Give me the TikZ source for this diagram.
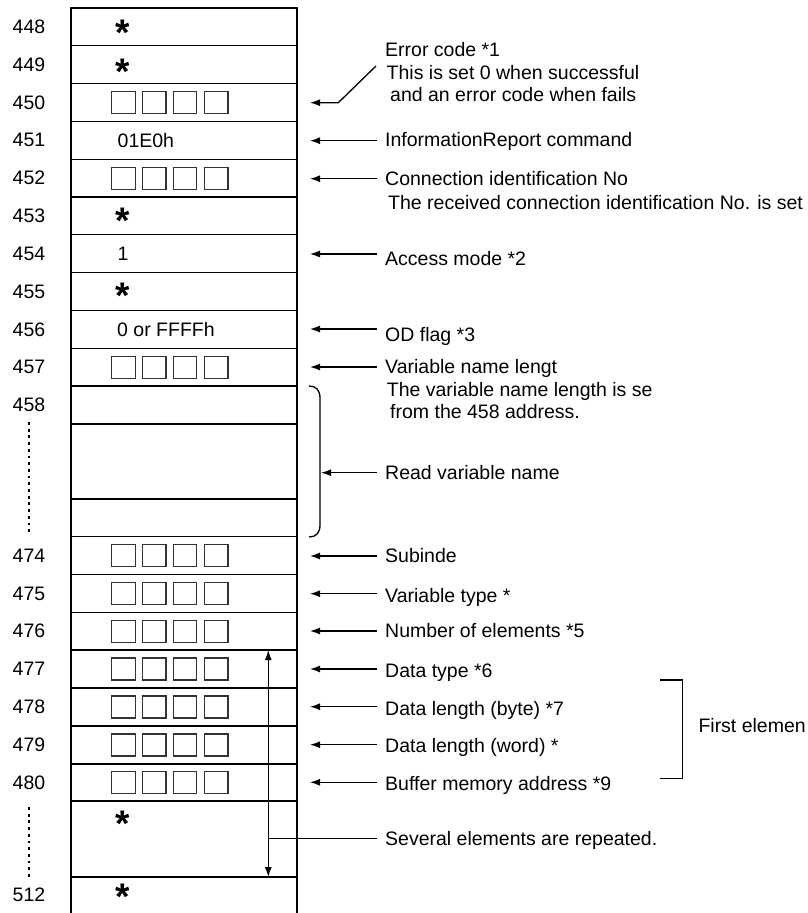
\documentclass[tikz,border=0pt]{standalone}
\usepackage{fontspec}
\setmainfont{Liberation Sans}
\usetikzlibrary{arrows.meta}
\begin{document}
\begin{tikzpicture}[x=1pt,y=-1pt,
  tline/.style={line width=1.3pt},
  arr/.style={line width=1.3pt,-{Latex[length=10pt,width=7pt]}},
  darr/.style={line width=1.3pt,{Latex[length=10pt,width=7pt]}-{Latex[length=10pt,width=7pt]}},
  lbl/.style={anchor=base west, inner sep=0pt, font=\fontsize{19.5}{23}\selectfont},
  addr/.style={inner sep=0pt, font=\fontsize{19.5}{23}\selectfont},
  star/.style={anchor=base, inner sep=0pt, font=\fontsize{37}{37}\selectfont\bfseries},
  sq/.style={draw=black!80, line width=1.2pt, minimum width=23.5pt, minimum height=22pt, inner sep=0pt},
  dots/.style={line width=2.8pt, dash pattern=on 2.8pt off 3.9pt}]
\useasboundingbox (0,0) rectangle (807,913);

% table frame
\coordinate (tblTL) at (71,8);
\coordinate (tblTR) at (297,8);
\coordinate (tblBL) at (71,913);
\coordinate (tblBR) at (297,913);
\draw[tline] (tblBL) -- (tblTL) -- (tblTR) -- (tblBR);
\foreach \y in {45.8,83.6,121.4,159.2,197,234.8,272.6,310.4,348.2,386,424,499,536.7,574.5,612.3,650,688,726,764,801,877}
  \draw[tline] (71,\y) -- (297,\y);

% address labels
\foreach \t/\y in {448/26.9,449/64.7,450/102.5,451/140.3,452/178.1,453/215.9,454/253.7,455/291.5,456/329.3,457/367.1,458/405,474/555.6,475/593.4,476/631.2,477/669,478/707,479/745,480/782.5,512/895}
  \node[addr] (ad\t) at (29,\y) {\t};
\coordinate (dA1) at (29,422);
\coordinate (dA2) at (29,533);
\coordinate (dB1) at (29,807);
\coordinate (dB2) at (29,877);
\draw[dots] (dA1) -- (dA2);
\draw[dots] (dB1) -- (dB2);

% four-square cells
\foreach \r/\y in {450/102.5,452/178.1,457/367.1,474/555.6,475/593.4,476/631.2,477/669,478/707,479/745,480/782.5}{
  \node[sq] (sq\r a) at (123.4,\y) {};
  \node[sq] (sq\r b) at (154.2,\y) {};
  \node[sq] (sq\r c) at (185,\y) {};
  \node[sq] (sq\r d) at (216.3,\y) {};
}

% asterisks
\foreach \n/\y in {448/29,449/68,453/216.7,455/292.5,481/820,512/893}
  \node[star] (st\n) at (122.5,\y+16.4) {*};

% cell texts
\node[lbl] (v451) at (117.5,147.3) {01E0h};
\node[lbl] (v454) at (117.5,260) {1};
\node[lbl] (v456) at (117,336) {0 or FFFFh};

% labels
\node[lbl] (err1) at (385,56) {Error code *1};
\node[lbl] (err2) at (386.5,79.3) {This is set 0 when successful};
\node[lbl] (err3) at (390,101.7) {and an error code when fails};
\node[lbl] (l451) at (385,146.7) {InformationReport command};
\node[lbl] (l452) at (385,185) {Connection identification No};
\node[lbl] (l452b) at (388,209) {The received connection identification No. is set};
\node[lbl] (l454) at (385,265) {Access mode *2};
\node[lbl] (l456) at (385,341) {OD flag *3};
\node[lbl] (l457) at (385,373.3) {Variable name lengt};
\node[lbl] (l457b) at (386.7,396) {The variable name length is se};
\node[lbl] (l457c) at (390,418.7) {from the 458 address.};
\node[lbl] (lread) at (385,479.3) {Read variable name};
\node[lbl] (l474) at (385,562.7) {Subinde};
\node[lbl] (l475) at (385,602.7) {Variable type *};
\node[lbl] (l476) at (385,637.3) {Number of elements *5};
\node[lbl] (l477) at (385,677.3) {Data type *6};
\node[lbl] (l478) at (385,715) {Data length (byte) *7};
\node[lbl] (l479) at (385,752.7) {Data length (word) *};
\node[lbl] (l480) at (385,790) {Buffer memory address *9};
\node[lbl] (lsev) at (385,845.3) {Several elements are repeated.};
\node[lbl] (lfirst) at (698.3,732.7) {First elemen};

% error code elbow arrow
\coordinate (e1) at (376,66);
\coordinate (e2) at (338.3,102.7);
\coordinate (e3) at (310,102.7);
\draw[arr] (e1) -- (e2) -- (e3);

% horizontal arrows
\foreach \n/\y in {451/140.7,452/178.7,454/254,456/329,457/367,474/556,475/593.7,476/631,477/669,478/706.7,479/744.7,480/782.3}{
  \coordinate (as\n) at (376.7,\y);
  \coordinate (ae\n) at (310,\y);
  \draw[arr] (as\n) -- (ae\n);
}

% read variable name bracket
\coordinate (brT) at (309,386);
\coordinate (brB) at (309,537);
\draw[tline] (brT) .. controls (316,386) and (320,390) .. (320,398) -- (320,525) .. controls (320,533) and (316,537) .. (brB);
\coordinate (rs) at (376.7,472.7);
\coordinate (re) at (321,472.7);
\draw[arr] (rs) -- (re);

% repeat double arrow
\coordinate (rpT) at (268.3,650);
\coordinate (rpB) at (268.3,877);
\coordinate (rpM) at (268.3,838.7);
\coordinate (rpE) at (376.7,838.7);
\draw[darr] (rpT) -- (rpB);
\draw[tline] (rpM) -- (rpE);

% first element bracket
\coordinate (fb1) at (660,680);
\coordinate (fb2) at (682.7,680);
\coordinate (fb3) at (682.7,778.3);
\coordinate (fb4) at (660,778.3);
\draw[tline] (fb1) -- (fb2) -- (fb3) -- (fb4);
\end{tikzpicture}
\end{document}
